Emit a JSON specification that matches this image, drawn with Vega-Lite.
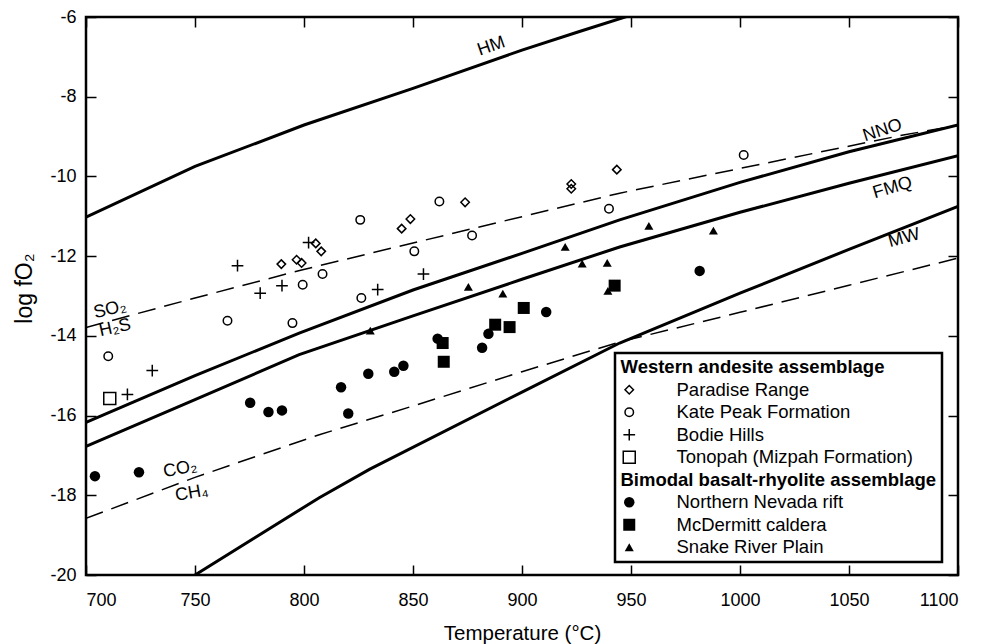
{
  "$schema": "https://vega.github.io/schema/vega-lite/v6.json",
  "width": 872,
  "height": 558,
  "autosize": {"type": "none"},
  "padding": {"left": 86, "top": 17, "right": 24, "bottom": 69},
  "background": "white",
  "config": {
    "view": {"stroke": "black", "strokeWidth": 2.5},
    "font": "Liberation Sans",
    "legend": {"strokeWidth": 2.5},
    "axis": {
      "domain": false, "grid": false, "tickColor": "black", "tickWidth": 1.5, "tickSize": -10,
      "labelFont": "Liberation Sans", "labelFontSize": 18, "labelColor": "black",
      "titleFont": "Liberation Sans", "titleFontWeight": "normal", "titleColor": "black"
    }
  },
  "datasets": {
    "points": [
      {"series": "Paradise Range", "T": 789.6, "f": -12.20},
      {"series": "Paradise Range", "T": 796.6, "f": -12.09},
      {"series": "Paradise Range", "T": 798.9, "f": -12.17},
      {"series": "Paradise Range", "T": 805.4, "f": -11.68},
      {"series": "Paradise Range", "T": 807.9, "f": -11.88},
      {"series": "Paradise Range", "T": 844.8, "f": -11.31},
      {"series": "Paradise Range", "T": 848.8, "f": -11.07},
      {"series": "Paradise Range", "T": 873.9, "f": -10.65},
      {"series": "Paradise Range", "T": 922.6, "f": -10.19},
      {"series": "Paradise Range", "T": 922.6, "f": -10.31},
      {"series": "Paradise Range", "T": 943.5, "f": -9.83},
      {"series": "Kate Peak Formation", "T": 710.2, "f": -14.51},
      {"series": "Kate Peak Formation", "T": 764.9, "f": -13.62},
      {"series": "Kate Peak Formation", "T": 794.7, "f": -13.68},
      {"series": "Kate Peak Formation", "T": 799.4, "f": -12.72},
      {"series": "Kate Peak Formation", "T": 808.5, "f": -12.45},
      {"series": "Kate Peak Formation", "T": 825.8, "f": -11.09},
      {"series": "Kate Peak Formation", "T": 826.3, "f": -13.05},
      {"series": "Kate Peak Formation", "T": 850.6, "f": -11.88},
      {"series": "Kate Peak Formation", "T": 862.1, "f": -10.63},
      {"series": "Kate Peak Formation", "T": 877.1, "f": -11.48},
      {"series": "Kate Peak Formation", "T": 939.9, "f": -10.81},
      {"series": "Kate Peak Formation", "T": 1001.7, "f": -9.46},
      {"series": "Bodie Hills", "T": 719.0, "f": -15.47},
      {"series": "Bodie Hills", "T": 730.4, "f": -14.87},
      {"series": "Bodie Hills", "T": 769.5, "f": -12.24},
      {"series": "Bodie Hills", "T": 779.9, "f": -12.93},
      {"series": "Bodie Hills", "T": 789.9, "f": -12.74},
      {"series": "Bodie Hills", "T": 802.1, "f": -11.66},
      {"series": "Bodie Hills", "T": 833.8, "f": -12.84},
      {"series": "Bodie Hills", "T": 854.8, "f": -12.45},
      {"series": "Tonopah (Mizpah Formation)", "T": 710.9, "f": -15.57},
      {"series": "Northern Nevada rift", "T": 704.1, "f": -17.52},
      {"series": "Northern Nevada rift", "T": 724.3, "f": -17.42},
      {"series": "Northern Nevada rift", "T": 775.3, "f": -15.68},
      {"series": "Northern Nevada rift", "T": 783.7, "f": -15.91},
      {"series": "Northern Nevada rift", "T": 789.9, "f": -15.87},
      {"series": "Northern Nevada rift", "T": 817.0, "f": -15.29},
      {"series": "Northern Nevada rift", "T": 820.3, "f": -15.95},
      {"series": "Northern Nevada rift", "T": 829.5, "f": -14.95},
      {"series": "Northern Nevada rift", "T": 841.4, "f": -14.90},
      {"series": "Northern Nevada rift", "T": 845.6, "f": -14.75},
      {"series": "Northern Nevada rift", "T": 861.3, "f": -14.07},
      {"series": "Northern Nevada rift", "T": 881.7, "f": -14.30},
      {"series": "Northern Nevada rift", "T": 884.6, "f": -13.95},
      {"series": "Northern Nevada rift", "T": 911.1, "f": -13.40},
      {"series": "Northern Nevada rift", "T": 981.5, "f": -12.37},
      {"series": "McDermitt caldera", "T": 863.6, "f": -14.18},
      {"series": "McDermitt caldera", "T": 864.1, "f": -14.65},
      {"series": "McDermitt caldera", "T": 887.7, "f": -13.72},
      {"series": "McDermitt caldera", "T": 894.3, "f": -13.78},
      {"series": "McDermitt caldera", "T": 900.8, "f": -13.30},
      {"series": "McDermitt caldera", "T": 942.5, "f": -12.74},
      {"series": "Snake River Plain", "T": 830.4, "f": -13.87},
      {"series": "Snake River Plain", "T": 875.4, "f": -12.77},
      {"series": "Snake River Plain", "T": 891.2, "f": -12.94},
      {"series": "Snake River Plain", "T": 919.8, "f": -11.77},
      {"series": "Snake River Plain", "T": 927.6, "f": -12.19},
      {"series": "Snake River Plain", "T": 939.1, "f": -12.17},
      {"series": "Snake River Plain", "T": 939.4, "f": -12.87},
      {"series": "Snake River Plain", "T": 958.2, "f": -11.24},
      {"series": "Snake River Plain", "T": 987.8, "f": -11.36}
    ],
    "buffers": [
      {"curve": "HM", "T": 700, "f": -11.02},
      {"curve": "HM", "T": 750, "f": -9.75},
      {"curve": "HM", "T": 800, "f": -8.71},
      {"curve": "HM", "T": 850, "f": -7.79},
      {"curve": "HM", "T": 900, "f": -6.83},
      {"curve": "HM", "T": 926, "f": -6.37},
      {"curve": "HM", "T": 960, "f": -5.78},
      {"curve": "NNO", "T": 700, "f": -16.17},
      {"curve": "NNO", "T": 750, "f": -15.0},
      {"curve": "NNO", "T": 797.8, "f": -13.93},
      {"curve": "NNO", "T": 850, "f": -12.85},
      {"curve": "NNO", "T": 900, "f": -11.93},
      {"curve": "NNO", "T": 944.8, "f": -11.09},
      {"curve": "NNO", "T": 1000, "f": -10.15},
      {"curve": "NNO", "T": 1050, "f": -9.38},
      {"curve": "NNO", "T": 1100, "f": -8.71},
      {"curve": "FMQ", "T": 700, "f": -16.77},
      {"curve": "FMQ", "T": 750, "f": -15.6},
      {"curve": "FMQ", "T": 797.8, "f": -14.47},
      {"curve": "FMQ", "T": 850, "f": -13.5},
      {"curve": "FMQ", "T": 900, "f": -12.58},
      {"curve": "FMQ", "T": 944.8, "f": -11.77},
      {"curve": "FMQ", "T": 1000, "f": -10.9},
      {"curve": "FMQ", "T": 1050, "f": -10.17},
      {"curve": "FMQ", "T": 1100, "f": -9.48},
      {"curve": "MW", "T": 750, "f": -20.0},
      {"curve": "MW", "T": 807, "f": -18.06},
      {"curve": "MW", "T": 830, "f": -17.35},
      {"curve": "MW", "T": 900, "f": -15.41},
      {"curve": "MW", "T": 944.8, "f": -14.18},
      {"curve": "MW", "T": 1000, "f": -12.93},
      {"curve": "MW", "T": 1050, "f": -11.83},
      {"curve": "MW", "T": 1100, "f": -10.75}
    ],
    "gas": [
      {"curve": "SO2-H2S", "T": 700, "f": -13.79},
      {"curve": "SO2-H2S", "T": 750, "f": -13.05},
      {"curve": "SO2-H2S", "T": 799.4, "f": -12.34},
      {"curve": "SO2-H2S", "T": 850, "f": -11.67},
      {"curve": "SO2-H2S", "T": 900, "f": -11.01},
      {"curve": "SO2-H2S", "T": 944.8, "f": -10.42},
      {"curve": "SO2-H2S", "T": 1000, "f": -9.8},
      {"curve": "SO2-H2S", "T": 1074.9, "f": -8.96},
      {"curve": "SO2-H2S", "T": 1100, "f": -8.72},
      {"curve": "CO2-CH4", "T": 700, "f": -18.58},
      {"curve": "CO2-CH4", "T": 750, "f": -17.55},
      {"curve": "CO2-CH4", "T": 807, "f": -16.48},
      {"curve": "CO2-CH4", "T": 850, "f": -15.76},
      {"curve": "CO2-CH4", "T": 900, "f": -14.9},
      {"curve": "CO2-CH4", "T": 945, "f": -14.15},
      {"curve": "CO2-CH4", "T": 1000, "f": -13.41},
      {"curve": "CO2-CH4", "T": 1050, "f": -12.73},
      {"curve": "CO2-CH4", "T": 1100, "f": -12.05}
    ],
    "labels": [
      {"text": "HM", "T": 885.9, "f": -6.74},
      {"text": "NNO", "T": 1065.4, "f": -8.85},
      {"text": "FMQ", "T": 1070, "f": -10.29},
      {"text": "MW", "T": 1075.3, "f": -11.55},
      {"text": "SO₂", "T": 711, "f": -13.34},
      {"text": "H₂S", "T": 713.3, "f": -13.8},
      {"text": "CO₂", "T": 743.2, "f": -17.34},
      {"text": "CH₄", "T": 748.5, "f": -17.95}
    ]
  },
  "resolve": {"axis": {"x": "independent", "y": "independent"}},
  "layer": [
    {
      "data": {"name": "buffers"},
      "mark": {"type": "line", "color": "black", "strokeWidth": 3, "clip": true},
      "encoding": {
        "x": {"field": "T", "type": "quantitative", "scale": {"domain": [700, 1100], "nice": false, "zero": false},
              "axis": {"orient": "top", "labels": false, "title": null, "values": [700, 750, 800, 850, 900, 950, 1000, 1050, 1100]}},
        "y": {"field": "f", "type": "quantitative", "scale": {"domain": [-20, -6], "nice": false, "zero": false},
              "axis": {"orient": "right", "labels": false, "title": null, "values": [-20, -18, -16, -14, -12, -10, -8, -6]}},
        "detail": {"field": "curve"}
      }
    },
    {
      "data": {"name": "gas"},
      "mark": {"type": "line", "color": "black", "strokeWidth": 1.5, "strokeDash": [18, 9], "clip": true},
      "encoding": {
        "x": {"field": "T", "type": "quantitative", "axis": null},
        "y": {"field": "f", "type": "quantitative", "axis": null},
        "detail": {"field": "curve"}
      }
    },
    {
      "data": {"name": "labels"},
      "mark": {"type": "text", "font": "Liberation Sans", "fontSize": 18, "color": "black", "align": "center", "baseline": "middle"},
      "encoding": {
        "x": {"field": "T", "type": "quantitative", "axis": null},
        "y": {"field": "f", "type": "quantitative", "axis": null},
        "text": {"field": "text"},
        "angle": {"field": "text", "type": "nominal", "legend": null,
                  "scale": {"domain": ["HM", "NNO", "FMQ", "MW", "SO₂", "H₂S", "CO₂", "CH₄"], "range": [-19, -10, -10, -20, -15, -15, -18, -18]}}
      }
    },
    {
      "data": {"name": "points"},
      "mark": {"type": "point", "strokeWidth": 1.5, "opacity": 1, "filled": false},
      "encoding": {
        "x": {"field": "T", "type": "quantitative",
              "axis": {"orient": "bottom", "title": "Temperature (°C)", "titleFontSize": 20.5, "titleY": 64, "titleBaseline": "alphabetic", "labelPadding": 26, "labelExpr": "'' + datum.value", "values": [700, 750, 800, 850, 900, 950, 1000, 1050, 1100]}},
        "y": {"field": "f", "type": "quantitative",
              "axis": {"orient": "left", "title": "log fO₂", "titleFontSize": 23, "titleX": -55, "titleY": 271, "titleBaseline": "alphabetic", "titleAlign": "center", "titleAngle": -90, "labelPadding": 20, "labelExpr": "'' + datum.value", "values": [-20, -18, -16, -14, -12, -10, -8, -6]}},
        "shape": {"field": "series", "type": "nominal",
          "scale": {"domain": ["Western andesite assemblage", "Paradise Range", "Kate Peak Formation", "Bodie Hills", "Tonopah (Mizpah Formation)", "Bimodal basalt-rhyolite assemblage", "Northern Nevada rift", "McDermitt caldera", "Snake River Plain"],
                    "range": ["circle", "diamond", "circle", "M-1,0H1M0,-1V1", "square", "circle", "circle", "square", "triangle-up"]},
          "legend": {
            "title": null, "orient": "none", "legendX": 529, "legendY": 336,
            "padding": 5, "labelFont": "Liberation Sans", "labelFontSize": 18.5, "labelColor": "black",
            "labelOffset": {"expr": "(datum.value == 'Western andesite assemblage' || datum.value == 'Bimodal basalt-rhyolite assemblage') ? -18 : 38"},
            "labelFontWeight": {"expr": "(datum.value == 'Western andesite assemblage' || datum.value == 'Bimodal basalt-rhyolite assemblage') ? 'bold' : 'normal'"},
            "labelLimit": 500, "rowPadding": 3.5, "symbolStrokeWidth": 1.5,
            "strokeColor": "black", "fillColor": "white"
          }
        },
        "fill": {"field": "series", "type": "nominal",
          "scale": {"domain": ["Western andesite assemblage", "Paradise Range", "Kate Peak Formation", "Bodie Hills", "Tonopah (Mizpah Formation)", "Bimodal basalt-rhyolite assemblage", "Northern Nevada rift", "McDermitt caldera", "Snake River Plain"],
                    "range": ["transparent", "transparent", "transparent", "transparent", "transparent", "transparent", "black", "black", "black"]}},
        "stroke": {"field": "series", "type": "nominal",
          "scale": {"domain": ["Western andesite assemblage", "Paradise Range", "Kate Peak Formation", "Bodie Hills", "Tonopah (Mizpah Formation)", "Bimodal basalt-rhyolite assemblage", "Northern Nevada rift", "McDermitt caldera", "Snake River Plain"],
                    "range": ["transparent", "black", "black", "black", "black", "transparent", "transparent", "transparent", "transparent"]}},
        "size": {"field": "series", "type": "nominal",
          "scale": {"type": "ordinal", "domain": ["Western andesite assemblage", "Paradise Range", "Kate Peak Formation", "Bodie Hills", "Tonopah (Mizpah Formation)", "Bimodal basalt-rhyolite assemblage", "Northern Nevada rift", "McDermitt caldera", "Snake River Plain"],
                    "range": [1, 72, 72, 137, 144, 1, 110, 144, 81]}}
      }
    }
  ]
}
